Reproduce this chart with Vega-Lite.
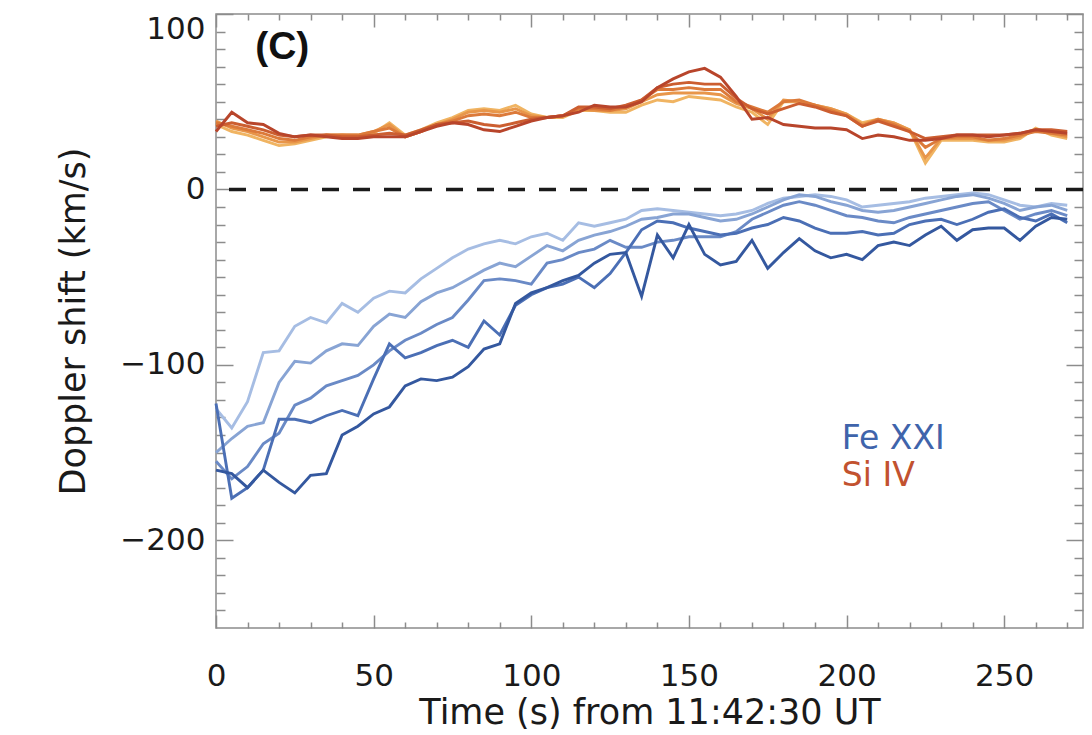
{
  "$schema": "https://vega.github.io/schema/vega-lite/v6.json",
  "width": 867,
  "height": 614,
  "autosize": "none",
  "padding": {"left": 216, "top": 14, "right": 9, "bottom": 107},
  "background": "white",
  "config": {"view": {"stroke": "#8c8c8c", "strokeWidth": 1.5}, "font": "DejaVu Sans"},
  "datasets": {
    "zero": [{"z": 0}],
    "tick": [{"t": 0, "v": 0}],
    "notes": [{"t": 21, "v": 81, "txt": "(C)"}],
    "legend": [{"t": 198.5, "v": -142.5, "txt": "Fe XXI", "s": "Fe"}, {"t": 198.5, "v": -163.5, "txt": "Si IV", "s": "Si"}],
    "d": [
{"s":"B1","t":0,"v":-125},{"s":"B1","t":5,"v":-136},{"s":"B1","t":10,"v":-121},{"s":"B1","t":15,"v":-93},{"s":"B1","t":20,"v":-92},{"s":"B1","t":25,"v":-78},{"s":"B1","t":30,"v":-73},{"s":"B1","t":35,"v":-76},{"s":"B1","t":40,"v":-65},{"s":"B1","t":45,"v":-70},{"s":"B1","t":50,"v":-62},{"s":"B1","t":55,"v":-58},{"s":"B1","t":60,"v":-59},{"s":"B1","t":65,"v":-51},{"s":"B1","t":70,"v":-45},{"s":"B1","t":75,"v":-39},{"s":"B1","t":80,"v":-34},{"s":"B1","t":85,"v":-31},{"s":"B1","t":90,"v":-29},{"s":"B1","t":95,"v":-31},{"s":"B1","t":100,"v":-27},{"s":"B1","t":105,"v":-25},{"s":"B1","t":110,"v":-29},{"s":"B1","t":115,"v":-19},{"s":"B1","t":120,"v":-21},{"s":"B1","t":125,"v":-19},{"s":"B1","t":130,"v":-17},{"s":"B1","t":135,"v":-12},{"s":"B1","t":140,"v":-11},{"s":"B1","t":145,"v":-12},{"s":"B1","t":150,"v":-13},{"s":"B1","t":155,"v":-14},{"s":"B1","t":160,"v":-15},{"s":"B1","t":165,"v":-14},{"s":"B1","t":170,"v":-12},{"s":"B1","t":175,"v":-8},{"s":"B1","t":180,"v":-5},{"s":"B1","t":185,"v":-4},{"s":"B1","t":190,"v":-3},{"s":"B1","t":195,"v":-4},{"s":"B1","t":200,"v":-6},{"s":"B1","t":205,"v":-10},{"s":"B1","t":210,"v":-9},{"s":"B1","t":215,"v":-8},{"s":"B1","t":220,"v":-7},{"s":"B1","t":225,"v":-5},{"s":"B1","t":230,"v":-4},{"s":"B1","t":235,"v":-3},{"s":"B1","t":240,"v":-2},{"s":"B1","t":245,"v":-3},{"s":"B1","t":250,"v":-6},{"s":"B1","t":255,"v":-9},{"s":"B1","t":260,"v":-10},{"s":"B1","t":265,"v":-8},{"s":"B1","t":270,"v":-9},
{"s":"B2","t":0,"v":-150},{"s":"B2","t":5,"v":-142},{"s":"B2","t":10,"v":-135},{"s":"B2","t":15,"v":-133},{"s":"B2","t":20,"v":-110},{"s":"B2","t":25,"v":-98},{"s":"B2","t":30,"v":-99},{"s":"B2","t":35,"v":-92},{"s":"B2","t":40,"v":-88},{"s":"B2","t":45,"v":-89},{"s":"B2","t":50,"v":-78},{"s":"B2","t":55,"v":-71},{"s":"B2","t":60,"v":-73},{"s":"B2","t":65,"v":-64},{"s":"B2","t":70,"v":-59},{"s":"B2","t":75,"v":-56},{"s":"B2","t":80,"v":-51},{"s":"B2","t":85,"v":-46},{"s":"B2","t":90,"v":-42},{"s":"B2","t":95,"v":-44},{"s":"B2","t":100,"v":-38},{"s":"B2","t":105,"v":-32},{"s":"B2","t":110,"v":-35},{"s":"B2","t":115,"v":-29},{"s":"B2","t":120,"v":-26},{"s":"B2","t":125,"v":-24},{"s":"B2","t":130,"v":-21},{"s":"B2","t":135,"v":-17},{"s":"B2","t":140,"v":-16},{"s":"B2","t":145,"v":-14},{"s":"B2","t":150,"v":-14},{"s":"B2","t":155,"v":-16},{"s":"B2","t":160,"v":-18},{"s":"B2","t":165,"v":-17},{"s":"B2","t":170,"v":-14},{"s":"B2","t":175,"v":-10},{"s":"B2","t":180,"v":-6},{"s":"B2","t":185,"v":-3},{"s":"B2","t":190,"v":-4},{"s":"B2","t":195,"v":-7},{"s":"B2","t":200,"v":-9},{"s":"B2","t":205,"v":-12},{"s":"B2","t":210,"v":-13},{"s":"B2","t":215,"v":-12},{"s":"B2","t":220,"v":-10},{"s":"B2","t":225,"v":-8},{"s":"B2","t":230,"v":-6},{"s":"B2","t":235,"v":-4},{"s":"B2","t":240,"v":-3},{"s":"B2","t":245,"v":-5},{"s":"B2","t":250,"v":-8},{"s":"B2","t":255,"v":-12},{"s":"B2","t":260,"v":-10},{"s":"B2","t":265,"v":-9},{"s":"B2","t":270,"v":-12},
{"s":"B3","t":0,"v":-155},{"s":"B3","t":5,"v":-165},{"s":"B3","t":10,"v":-158},{"s":"B3","t":15,"v":-145},{"s":"B3","t":20,"v":-139},{"s":"B3","t":25,"v":-123},{"s":"B3","t":30,"v":-119},{"s":"B3","t":35,"v":-112},{"s":"B3","t":40,"v":-109},{"s":"B3","t":45,"v":-106},{"s":"B3","t":50,"v":-100},{"s":"B3","t":55,"v":-92},{"s":"B3","t":60,"v":-86},{"s":"B3","t":65,"v":-82},{"s":"B3","t":70,"v":-77},{"s":"B3","t":75,"v":-73},{"s":"B3","t":80,"v":-63},{"s":"B3","t":85,"v":-52},{"s":"B3","t":90,"v":-51},{"s":"B3","t":95,"v":-52},{"s":"B3","t":100,"v":-54},{"s":"B3","t":105,"v":-42},{"s":"B3","t":110,"v":-40},{"s":"B3","t":115,"v":-36},{"s":"B3","t":120,"v":-34},{"s":"B3","t":125,"v":-29},{"s":"B3","t":130,"v":-33},{"s":"B3","t":135,"v":-33},{"s":"B3","t":140,"v":-30},{"s":"B3","t":145,"v":-29},{"s":"B3","t":150,"v":-27},{"s":"B3","t":155,"v":-27},{"s":"B3","t":160,"v":-27},{"s":"B3","t":165,"v":-24},{"s":"B3","t":170,"v":-17},{"s":"B3","t":175,"v":-13},{"s":"B3","t":180,"v":-9},{"s":"B3","t":185,"v":-7},{"s":"B3","t":190,"v":-9},{"s":"B3","t":195,"v":-12},{"s":"B3","t":200,"v":-15},{"s":"B3","t":205,"v":-16},{"s":"B3","t":210,"v":-18},{"s":"B3","t":215,"v":-19},{"s":"B3","t":220,"v":-16},{"s":"B3","t":225,"v":-14},{"s":"B3","t":230,"v":-12},{"s":"B3","t":235,"v":-10},{"s":"B3","t":240,"v":-8},{"s":"B3","t":245,"v":-7},{"s":"B3","t":250,"v":-12},{"s":"B3","t":255,"v":-17},{"s":"B3","t":260,"v":-14},{"s":"B3","t":265,"v":-12},{"s":"B3","t":270,"v":-15},
{"s":"B4","t":0,"v":-122},{"s":"B4","t":5,"v":-176},{"s":"B4","t":10,"v":-170},{"s":"B4","t":15,"v":-160},{"s":"B4","t":20,"v":-131},{"s":"B4","t":25,"v":-131},{"s":"B4","t":30,"v":-133},{"s":"B4","t":35,"v":-129},{"s":"B4","t":40,"v":-126},{"s":"B4","t":45,"v":-129},{"s":"B4","t":50,"v":-108},{"s":"B4","t":55,"v":-88},{"s":"B4","t":60,"v":-96},{"s":"B4","t":65,"v":-93},{"s":"B4","t":70,"v":-89},{"s":"B4","t":75,"v":-86},{"s":"B4","t":80,"v":-90},{"s":"B4","t":85,"v":-75},{"s":"B4","t":90,"v":-83},{"s":"B4","t":95,"v":-66},{"s":"B4","t":100,"v":-60},{"s":"B4","t":105,"v":-56},{"s":"B4","t":110,"v":-54},{"s":"B4","t":115,"v":-50},{"s":"B4","t":120,"v":-56},{"s":"B4","t":125,"v":-48},{"s":"B4","t":130,"v":-36},{"s":"B4","t":135,"v":-23},{"s":"B4","t":140,"v":-18},{"s":"B4","t":145,"v":-19},{"s":"B4","t":150,"v":-22},{"s":"B4","t":155,"v":-24},{"s":"B4","t":160,"v":-26},{"s":"B4","t":165,"v":-25},{"s":"B4","t":170,"v":-22},{"s":"B4","t":175,"v":-20},{"s":"B4","t":180,"v":-16},{"s":"B4","t":185,"v":-18},{"s":"B4","t":190,"v":-22},{"s":"B4","t":195,"v":-25},{"s":"B4","t":200,"v":-25},{"s":"B4","t":205,"v":-24},{"s":"B4","t":210,"v":-26},{"s":"B4","t":215,"v":-25},{"s":"B4","t":220,"v":-20},{"s":"B4","t":225,"v":-18},{"s":"B4","t":230,"v":-17},{"s":"B4","t":235,"v":-20},{"s":"B4","t":240,"v":-17},{"s":"B4","t":245,"v":-13},{"s":"B4","t":250,"v":-11},{"s":"B4","t":255,"v":-16},{"s":"B4","t":260,"v":-18},{"s":"B4","t":265,"v":-14},{"s":"B4","t":270,"v":-19},
{"s":"B5","t":0,"v":-160},{"s":"B5","t":5,"v":-162},{"s":"B5","t":10,"v":-170},{"s":"B5","t":15,"v":-160},{"s":"B5","t":20,"v":-167},{"s":"B5","t":25,"v":-173},{"s":"B5","t":30,"v":-163},{"s":"B5","t":35,"v":-162},{"s":"B5","t":40,"v":-140},{"s":"B5","t":45,"v":-135},{"s":"B5","t":50,"v":-128},{"s":"B5","t":55,"v":-124},{"s":"B5","t":60,"v":-112},{"s":"B5","t":65,"v":-108},{"s":"B5","t":70,"v":-109},{"s":"B5","t":75,"v":-107},{"s":"B5","t":80,"v":-101},{"s":"B5","t":85,"v":-91},{"s":"B5","t":90,"v":-88},{"s":"B5","t":95,"v":-65},{"s":"B5","t":100,"v":-59},{"s":"B5","t":105,"v":-56},{"s":"B5","t":110,"v":-52},{"s":"B5","t":115,"v":-49},{"s":"B5","t":120,"v":-42},{"s":"B5","t":125,"v":-37},{"s":"B5","t":130,"v":-36},{"s":"B5","t":135,"v":-61},{"s":"B5","t":140,"v":-26},{"s":"B5","t":145,"v":-39},{"s":"B5","t":150,"v":-20},{"s":"B5","t":155,"v":-37},{"s":"B5","t":160,"v":-43},{"s":"B5","t":165,"v":-41},{"s":"B5","t":170,"v":-29},{"s":"B5","t":175,"v":-45},{"s":"B5","t":180,"v":-36},{"s":"B5","t":185,"v":-28},{"s":"B5","t":190,"v":-35},{"s":"B5","t":195,"v":-39},{"s":"B5","t":200,"v":-37},{"s":"B5","t":205,"v":-40},{"s":"B5","t":210,"v":-32},{"s":"B5","t":215,"v":-30},{"s":"B5","t":220,"v":-32},{"s":"B5","t":225,"v":-26},{"s":"B5","t":230,"v":-21},{"s":"B5","t":235,"v":-29},{"s":"B5","t":240,"v":-23},{"s":"B5","t":245,"v":-22},{"s":"B5","t":250,"v":-22},{"s":"B5","t":255,"v":-29},{"s":"B5","t":260,"v":-21},{"s":"B5","t":265,"v":-16},{"s":"B5","t":270,"v":-17},
{"s":"O1","t":0,"v":37},{"s":"O1","t":5,"v":33},{"s":"O1","t":10,"v":31},{"s":"O1","t":15,"v":28},{"s":"O1","t":20,"v":25},{"s":"O1","t":25,"v":26},{"s":"O1","t":30,"v":28},{"s":"O1","t":35,"v":30},{"s":"O1","t":40,"v":31},{"s":"O1","t":45,"v":30},{"s":"O1","t":50,"v":32},{"s":"O1","t":55,"v":38},{"s":"O1","t":60,"v":31},{"s":"O1","t":65,"v":34},{"s":"O1","t":70,"v":38},{"s":"O1","t":75,"v":41},{"s":"O1","t":80,"v":45},{"s":"O1","t":85,"v":46},{"s":"O1","t":90,"v":45},{"s":"O1","t":95,"v":48},{"s":"O1","t":100,"v":43},{"s":"O1","t":105,"v":41},{"s":"O1","t":110,"v":41},{"s":"O1","t":115,"v":45},{"s":"O1","t":120,"v":45},{"s":"O1","t":125,"v":44},{"s":"O1","t":130,"v":44},{"s":"O1","t":135,"v":48},{"s":"O1","t":140,"v":51},{"s":"O1","t":145,"v":50},{"s":"O1","t":150,"v":53},{"s":"O1","t":155,"v":52},{"s":"O1","t":160,"v":51},{"s":"O1","t":165,"v":47},{"s":"O1","t":170,"v":44},{"s":"O1","t":175,"v":37},{"s":"O1","t":180,"v":50},{"s":"O1","t":185,"v":50},{"s":"O1","t":190,"v":48},{"s":"O1","t":195,"v":46},{"s":"O1","t":200,"v":43},{"s":"O1","t":205,"v":38},{"s":"O1","t":210,"v":40},{"s":"O1","t":215,"v":38},{"s":"O1","t":220,"v":34},{"s":"O1","t":225,"v":15},{"s":"O1","t":230,"v":28},{"s":"O1","t":235,"v":28},{"s":"O1","t":240,"v":28},{"s":"O1","t":245,"v":27},{"s":"O1","t":250,"v":27},{"s":"O1","t":255,"v":29},{"s":"O1","t":260,"v":35},{"s":"O1","t":265,"v":31},{"s":"O1","t":270,"v":29},
{"s":"O2","t":0,"v":39},{"s":"O2","t":5,"v":35},{"s":"O2","t":10,"v":33},{"s":"O2","t":15,"v":30},{"s":"O2","t":20,"v":27},{"s":"O2","t":25,"v":27},{"s":"O2","t":30,"v":29},{"s":"O2","t":35,"v":31},{"s":"O2","t":40,"v":31},{"s":"O2","t":45,"v":31},{"s":"O2","t":50,"v":33},{"s":"O2","t":55,"v":37},{"s":"O2","t":60,"v":30},{"s":"O2","t":65,"v":33},{"s":"O2","t":70,"v":37},{"s":"O2","t":75,"v":40},{"s":"O2","t":80,"v":44},{"s":"O2","t":85,"v":45},{"s":"O2","t":90,"v":44},{"s":"O2","t":95,"v":46},{"s":"O2","t":100,"v":42},{"s":"O2","t":105,"v":41},{"s":"O2","t":110,"v":42},{"s":"O2","t":115,"v":46},{"s":"O2","t":120,"v":45},{"s":"O2","t":125,"v":45},{"s":"O2","t":130,"v":46},{"s":"O2","t":135,"v":50},{"s":"O2","t":140,"v":54},{"s":"O2","t":145,"v":55},{"s":"O2","t":150,"v":55},{"s":"O2","t":155,"v":55},{"s":"O2","t":160,"v":54},{"s":"O2","t":165,"v":49},{"s":"O2","t":170,"v":46},{"s":"O2","t":175,"v":40},{"s":"O2","t":180,"v":51},{"s":"O2","t":185,"v":50},{"s":"O2","t":190,"v":48},{"s":"O2","t":195,"v":46},{"s":"O2","t":200,"v":43},{"s":"O2","t":205,"v":37},{"s":"O2","t":210,"v":40},{"s":"O2","t":215,"v":38},{"s":"O2","t":220,"v":34},{"s":"O2","t":225,"v":18},{"s":"O2","t":230,"v":29},{"s":"O2","t":235,"v":29},{"s":"O2","t":240,"v":29},{"s":"O2","t":245,"v":28},{"s":"O2","t":250,"v":28},{"s":"O2","t":255,"v":30},{"s":"O2","t":260,"v":34},{"s":"O2","t":265,"v":32},{"s":"O2","t":270,"v":30},
{"s":"O3","t":0,"v":38},{"s":"O3","t":5,"v":36},{"s":"O3","t":10,"v":34},{"s":"O3","t":15,"v":32},{"s":"O3","t":20,"v":29},{"s":"O3","t":25,"v":28},{"s":"O3","t":30,"v":30},{"s":"O3","t":35,"v":31},{"s":"O3","t":40,"v":31},{"s":"O3","t":45,"v":31},{"s":"O3","t":50,"v":33},{"s":"O3","t":55,"v":35},{"s":"O3","t":60,"v":30},{"s":"O3","t":65,"v":33},{"s":"O3","t":70,"v":37},{"s":"O3","t":75,"v":39},{"s":"O3","t":80,"v":42},{"s":"O3","t":85,"v":43},{"s":"O3","t":90,"v":42},{"s":"O3","t":95,"v":44},{"s":"O3","t":100,"v":41},{"s":"O3","t":105,"v":41},{"s":"O3","t":110,"v":42},{"s":"O3","t":115,"v":46},{"s":"O3","t":120,"v":46},{"s":"O3","t":125,"v":45},{"s":"O3","t":130,"v":47},{"s":"O3","t":135,"v":51},{"s":"O3","t":140,"v":57},{"s":"O3","t":145,"v":57},{"s":"O3","t":150,"v":58},{"s":"O3","t":155,"v":57},{"s":"O3","t":160,"v":57},{"s":"O3","t":165,"v":50},{"s":"O3","t":170,"v":47},{"s":"O3","t":175,"v":44},{"s":"O3","t":180,"v":50},{"s":"O3","t":185,"v":51},{"s":"O3","t":190,"v":48},{"s":"O3","t":195,"v":45},{"s":"O3","t":200,"v":42},{"s":"O3","t":205,"v":36},{"s":"O3","t":210,"v":40},{"s":"O3","t":215,"v":37},{"s":"O3","t":220,"v":33},{"s":"O3","t":225,"v":24},{"s":"O3","t":230,"v":29},{"s":"O3","t":235,"v":30},{"s":"O3","t":240,"v":30},{"s":"O3","t":245,"v":28},{"s":"O3","t":250,"v":29},{"s":"O3","t":255,"v":31},{"s":"O3","t":260,"v":33},{"s":"O3","t":265,"v":32},{"s":"O3","t":270,"v":31},
{"s":"O4","t":0,"v":36},{"s":"O4","t":5,"v":38},{"s":"O4","t":10,"v":36},{"s":"O4","t":15,"v":34},{"s":"O4","t":20,"v":31},{"s":"O4","t":25,"v":30},{"s":"O4","t":30,"v":31},{"s":"O4","t":35,"v":31},{"s":"O4","t":40,"v":30},{"s":"O4","t":45,"v":30},{"s":"O4","t":50,"v":31},{"s":"O4","t":55,"v":32},{"s":"O4","t":60,"v":31},{"s":"O4","t":65,"v":34},{"s":"O4","t":70,"v":37},{"s":"O4","t":75,"v":38},{"s":"O4","t":80,"v":39},{"s":"O4","t":85,"v":37},{"s":"O4","t":90,"v":36},{"s":"O4","t":95,"v":38},{"s":"O4","t":100,"v":40},{"s":"O4","t":105,"v":41},{"s":"O4","t":110,"v":42},{"s":"O4","t":115,"v":47},{"s":"O4","t":120,"v":47},{"s":"O4","t":125,"v":46},{"s":"O4","t":130,"v":48},{"s":"O4","t":135,"v":51},{"s":"O4","t":140,"v":58},{"s":"O4","t":145,"v":60},{"s":"O4","t":150,"v":61},{"s":"O4","t":155,"v":60},{"s":"O4","t":160,"v":60},{"s":"O4","t":165,"v":52},{"s":"O4","t":170,"v":46},{"s":"O4","t":175,"v":43},{"s":"O4","t":180,"v":46},{"s":"O4","t":185,"v":49},{"s":"O4","t":190,"v":47},{"s":"O4","t":195,"v":44},{"s":"O4","t":200,"v":42},{"s":"O4","t":205,"v":36},{"s":"O4","t":210,"v":39},{"s":"O4","t":215,"v":36},{"s":"O4","t":220,"v":33},{"s":"O4","t":225,"v":29},{"s":"O4","t":230,"v":30},{"s":"O4","t":235,"v":31},{"s":"O4","t":240,"v":31},{"s":"O4","t":245,"v":31},{"s":"O4","t":250,"v":31},{"s":"O4","t":255,"v":32},{"s":"O4","t":260,"v":34},{"s":"O4","t":265,"v":34},{"s":"O4","t":270,"v":33},
{"s":"O5","t":0,"v":33},{"s":"O5","t":5,"v":44},{"s":"O5","t":10,"v":38},{"s":"O5","t":15,"v":37},{"s":"O5","t":20,"v":32},{"s":"O5","t":25,"v":30},{"s":"O5","t":30,"v":31},{"s":"O5","t":35,"v":30},{"s":"O5","t":40,"v":29},{"s":"O5","t":45,"v":29},{"s":"O5","t":50,"v":30},{"s":"O5","t":55,"v":30},{"s":"O5","t":60,"v":30},{"s":"O5","t":65,"v":33},{"s":"O5","t":70,"v":36},{"s":"O5","t":75,"v":38},{"s":"O5","t":80,"v":37},{"s":"O5","t":85,"v":34},{"s":"O5","t":90,"v":33},{"s":"O5","t":95,"v":36},{"s":"O5","t":100,"v":39},{"s":"O5","t":105,"v":41},{"s":"O5","t":110,"v":42},{"s":"O5","t":115,"v":44},{"s":"O5","t":120,"v":48},{"s":"O5","t":125,"v":47},{"s":"O5","t":130,"v":47},{"s":"O5","t":135,"v":50},{"s":"O5","t":140,"v":58},{"s":"O5","t":145,"v":63},{"s":"O5","t":150,"v":67},{"s":"O5","t":155,"v":69},{"s":"O5","t":160,"v":64},{"s":"O5","t":165,"v":53},{"s":"O5","t":170,"v":40},{"s":"O5","t":175,"v":41},{"s":"O5","t":180,"v":37},{"s":"O5","t":185,"v":36},{"s":"O5","t":190,"v":35},{"s":"O5","t":195,"v":35},{"s":"O5","t":200,"v":34},{"s":"O5","t":205,"v":29},{"s":"O5","t":210,"v":31},{"s":"O5","t":215,"v":30},{"s":"O5","t":220,"v":28},{"s":"O5","t":225,"v":28},{"s":"O5","t":230,"v":29},{"s":"O5","t":235,"v":31},{"s":"O5","t":240,"v":31},{"s":"O5","t":245,"v":30},{"s":"O5","t":250,"v":31},{"s":"O5","t":255,"v":32},{"s":"O5","t":260,"v":34},{"s":"O5","t":265,"v":33},{"s":"O5","t":270,"v":32}
    ]
  },
  "layer": [
    {
      "data": {"name": "zero"},
      "mark": {"type": "rule", "strokeDash": [17, 14], "strokeWidth": 3.5, "color": "#1a1a1a"},
      "encoding": {
        "y": {"field": "z", "type": "quantitative", "scale": {"domain": [-250, 100], "nice": false, "zero": false}, "axis": null}
      }
    },
    {
      "data": {"name": "d"},
      "mark": {"type": "line", "strokeWidth": 2.9},
      "encoding": {
        "x": {"field": "t", "type": "quantitative", "scale": {"domain": [0, 275], "nice": false, "zero": false},
              "axis": {"orient": "bottom", "values": [0, 50, 100, 150, 200, 250], "ticks": false, "domain": false, "grid": false,
                       "labelFont": "DejaVu Sans", "labelFontSize": 31, "labelColor": "#1a1a1a", "labelPadding": 33, "labelFlush": false,
                       "title": "Time (s) from 11:42:30 UT", "titleFont": "DejaVu Sans", "titleFontSize": 35, "titleFontWeight": "normal", "titleColor": "#1a1a1a", "titlePadding": 4}},
        "y": {"field": "v", "type": "quantitative", "scale": {"domain": [-250, 100], "nice": false, "zero": false},
              "axis": {"orient": "left", "values": [100, 0, -100, -200], "ticks": false, "domain": false, "grid": false,
                       "labelFont": "DejaVu Sans", "labelFontSize": 31, "labelColor": "#1a1a1a", "labelPadding": 11, "labelFlush": true, "labelFlushOffset": 0,
                       "title": "Doppler shift (km/s)", "titleFont": "DejaVu Sans", "titleFontSize": 35, "titleFontWeight": "normal", "titleColor": "#1a1a1a", "titlePadding": 28}},
        "color": {"field": "s", "type": "nominal", "legend": null,
                  "scale": {"domain": ["B1", "B2", "B3", "B4", "B5", "O1", "O2", "O3", "O4", "O5"],
                            "range": ["#a6bde3", "#88a4d4", "#6a8ac6", "#4b6fb5", "#34589f", "#f0b462", "#e8964a", "#dc7a3a", "#cc5e30", "#b8452b"]}}
      }
    },
    {
      "data": {"name": "tick"},
      "mark": {"type": "point", "opacity": 0},
      "encoding": {
        "x": {"field": "t", "type": "quantitative", "scale": {"domain": [0, 275], "nice": false, "zero": false},
              "axis": {"orient": "bottom", "values": [0, 50, 100, 150, 200, 250], "labels": false, "domain": false, "grid": false, "tickSize": -13, "tickWidth": 1.5, "tickColor": "#8c8c8c", "title": null}},
        "y": {"field": "v", "type": "quantitative", "scale": {"domain": [-250, 100], "nice": false, "zero": false},
              "axis": {"orient": "left", "values": [100, 0, -100, -200], "labels": false, "domain": false, "grid": false, "tickSize": -17, "tickWidth": 1.5, "tickColor": "#8c8c8c", "title": null}}
      }
    },
    {
      "data": {"name": "tick"},
      "mark": {"type": "point", "opacity": 0},
      "encoding": {
        "x": {"field": "t", "type": "quantitative", "scale": {"domain": [0, 275], "nice": false, "zero": false},
              "axis": {"orient": "bottom", "values": [10, 20, 30, 40, 60, 70, 80, 90, 110, 120, 130, 140, 160, 170, 180, 190, 210, 220, 230, 240, 260, 270], "labels": false, "domain": false, "grid": false, "tickSize": -6, "tickWidth": 1.5, "tickColor": "#8c8c8c", "title": null}},
        "y": {"field": "v", "type": "quantitative", "scale": {"domain": [-250, 100], "nice": false, "zero": false},
              "axis": {"orient": "left", "values": [90, 80, 70, 60, 50, 40, 30, 20, 10, -10, -20, -30, -40, -50, -60, -70, -80, -90, -110, -120, -130, -140, -150, -160, -170, -180, -190, -210, -220, -230, -240], "labels": false, "domain": false, "grid": false, "tickSize": -9, "tickWidth": 1.5, "tickColor": "#8c8c8c", "title": null}}
      }
    },
    {
      "data": {"name": "tick"},
      "mark": {"type": "point", "opacity": 0},
      "encoding": {
        "x": {"field": "t", "type": "quantitative", "scale": {"domain": [0, 275], "nice": false, "zero": false},
              "axis": {"orient": "top", "values": [0, 50, 100, 150, 200, 250], "labels": false, "domain": false, "grid": false, "tickSize": -13, "tickWidth": 1.5, "tickColor": "#8c8c8c", "title": null}},
        "y": {"field": "v", "type": "quantitative", "scale": {"domain": [-250, 100], "nice": false, "zero": false},
              "axis": {"orient": "right", "values": [100, 0, -100, -200], "labels": false, "domain": false, "grid": false, "tickSize": -17, "tickWidth": 1.5, "tickColor": "#8c8c8c", "title": null}}
      }
    },
    {
      "data": {"name": "tick"},
      "mark": {"type": "point", "opacity": 0},
      "encoding": {
        "x": {"field": "t", "type": "quantitative", "scale": {"domain": [0, 275], "nice": false, "zero": false},
              "axis": {"orient": "top", "values": [10, 20, 30, 40, 60, 70, 80, 90, 110, 120, 130, 140, 160, 170, 180, 190, 210, 220, 230, 240, 260, 270], "labels": false, "domain": false, "grid": false, "tickSize": -6, "tickWidth": 1.5, "tickColor": "#8c8c8c", "title": null}},
        "y": {"field": "v", "type": "quantitative", "scale": {"domain": [-250, 100], "nice": false, "zero": false},
              "axis": {"orient": "right", "values": [90, 80, 70, 60, 50, 40, 30, 20, 10, -10, -20, -30, -40, -50, -60, -70, -80, -90, -110, -120, -130, -140, -150, -160, -170, -180, -190, -210, -220, -230, -240], "labels": false, "domain": false, "grid": false, "tickSize": -9, "tickWidth": 1.5, "tickColor": "#8c8c8c", "title": null}}
      }
    },
    {
      "data": {"name": "notes"},
      "mark": {"type": "text", "font": "Liberation Sans Narrow, Liberation Sans", "fontWeight": "bold", "fontSize": 39, "color": "#111111", "align": "center", "baseline": "middle"},
      "encoding": {
        "x": {"field": "t", "type": "quantitative", "scale": {"domain": [0, 275], "nice": false, "zero": false}, "axis": null},
        "y": {"field": "v", "type": "quantitative", "scale": {"domain": [-250, 100], "nice": false, "zero": false}, "axis": null},
        "text": {"field": "txt"}
      }
    },
    {
      "data": {"name": "legend"},
      "mark": {"type": "text", "font": "DejaVu Sans", "fontSize": 33, "align": "left", "baseline": "middle"},
      "encoding": {
        "x": {"field": "t", "type": "quantitative", "scale": {"domain": [0, 275], "nice": false, "zero": false}, "axis": null},
        "y": {"field": "v", "type": "quantitative", "scale": {"domain": [-250, 100], "nice": false, "zero": false}, "axis": null},
        "text": {"field": "txt"},
        "color": {"field": "s", "type": "nominal", "legend": null, "scale": {"domain": ["Fe", "Si"], "range": ["#3f64ab", "#c2522f"]}}
      }
    }
  ],
  "resolve": {"axis": {"x": "independent", "y": "independent"}, "scale": {"color": "independent"}}
}
